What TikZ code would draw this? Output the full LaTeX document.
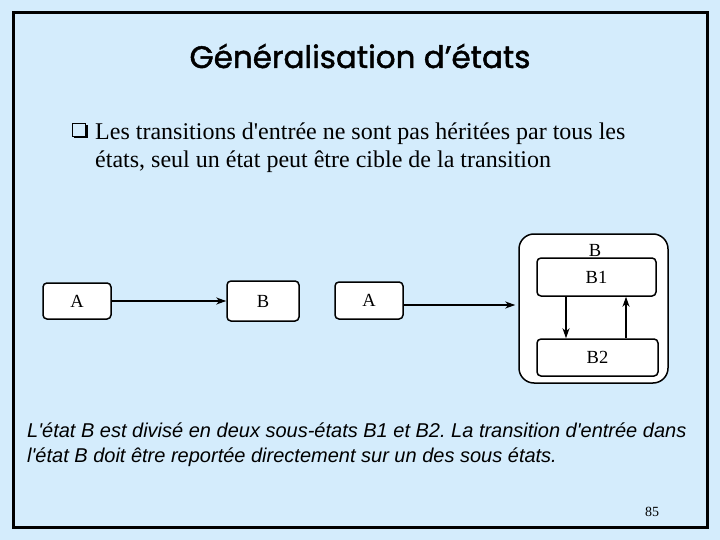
\documentclass[tikz,border=0pt]{standalone}
\usepackage{fontspec}
\setmainfont{Liberation Serif}
\newfontfamily\titlefont[FakeBold=1.5]{Poppins}
\newfontfamily\sansfont{Liberation Sans}
\usetikzlibrary{arrows.meta}
\definecolor{bgblue}{RGB}{212,236,252}
\newcommand\sq{\textquotesingle}
\frenchspacing
\begin{document}
\begin{tikzpicture}[x=1pt,y=-1pt,
  state/.style={draw, line width=1.5pt, fill=white, rounded corners=4pt, inner sep=0pt,
    font=\fontsize{18.5}{22}\selectfont},
  trans/.style={line width=1.4pt, -{Stealth[length=10pt,width=7pt,inset=3pt]}},
  bodytext/.style={anchor=base west, inner sep=0pt, font=\fontsize{24}{28}\selectfont},
  notetext/.style={anchor=base west, inner sep=0pt, font=\sansfont\itshape\fontsize{20}{24}\selectfont}]
\useasboundingbox (0,0) rectangle (720,540);
\fill[bgblue] (0,0) rectangle (720,540);
\draw[line width=3pt] (13,13) rectangle (707,527);
% title
\node[anchor=base, inner sep=0pt, font=\titlefont\fontsize{31}{36}\selectfont] (title) at (360,68) {Généralisation d’états};
% bullet
\draw[line width=0.7pt] (72,123) rectangle (85,136);
\draw[line width=1.8pt] (74,137) -- (86.6,137) -- (86.6,125);
\node[bodytext] (l1) at (95,140) {Les transitions d\sq entrée ne sont pas héritées par tous les};
\node[bodytext] (l2) at (95,168) {états, seul un état peut être cible de la transition};
% states
\node[state, minimum width=68pt, minimum height=36pt] (A1) at (77,301) {A};
\node[state, minimum width=72pt, minimum height=40pt] (B) at (263,301) {B};
\node[state, minimum width=68pt, minimum height=37pt] (A2) at (369,300.5) {A};
\node[state, rounded corners=15pt, minimum width=149pt, minimum height=149pt] (outer) at (593.5,308.5) {};
\node[inner sep=0pt, font=\fontsize{18.5}{22}\selectfont] (Blabel) at (595,250) {B};
\node[state, minimum width=119pt, minimum height=38pt] (B1) at (596.5,277) {B1};
\node[state, minimum width=121pt, minimum height=37pt] (B2) at (597.5,357.5) {B2};
% transitions
\draw[trans] (A1.east) -- (B.west);
\draw[trans, shorten >=3pt] (A2.east |- 0,305) -- (outer.west |- 0,305);
\draw[trans] ([xshift=-30.5pt]B1.south) -- ([xshift=-30.5pt]B1.south |- B2.north);
\draw[trans] ([xshift=29.5pt]B1.south |- B2.north) -- ([xshift=29.5pt]B1.south);
% note
\node[notetext] (n1) at (27,437) {L\sq état B est divisé en deux sous-états B1 et B2. La transition d\sq entrée dans};
\node[notetext] (n2) at (27,462) {l\sq état B doit être reportée directement sur un des sous états.};
\node[anchor=base, inner sep=0pt, font=\fontsize{14}{16}\selectfont] (page) at (652,516) {85};
\end{tikzpicture}
\end{document}
